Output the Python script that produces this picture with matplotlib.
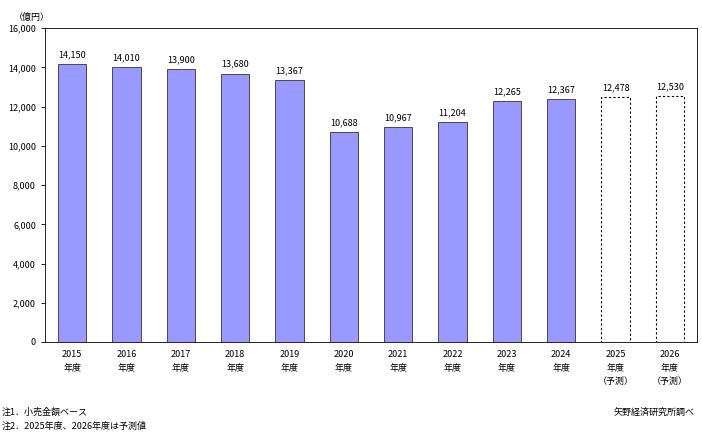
import matplotlib
matplotlib.use("Agg")
import matplotlib.pyplot as plt

plt.rcParams['font.family'] = ['Noto Sans CJK JP', 'DejaVu Sans']

years = ["2015", "2016", "2017", "2018", "2019", "2020", "2021", "2022", "2023", "2024", "2025", "2026"]
values = [14150, 14010, 13900, 13680, 13367, 10688, 10967, 11204, 12265, 12367, 12478, 12530]
forecast = [False]*10 + [True]*2
xlabels = [y + "\n年度" + ("\n（予測）" if f else "") for y, f in zip(years, forecast)]

fig = plt.figure(figsize=(7.02, 4.34), dpi=100)
ax = fig.add_axes([0.064, 0.212, 0.929, 0.723])
x = list(range(len(years)))
for i, (v, f) in enumerate(zip(values, forecast)):
    if f:
        ax.bar(i, v, width=0.52, facecolor='white', edgecolor='black', linestyle=(0, (2, 2)), linewidth=0.8)
    else:
        ax.bar(i, v, width=0.52, facecolor='#9999FF', edgecolor='#333333', linewidth=0.6)
    ax.text(i, v + 250, f"{v:,}", ha='center', va='bottom', fontsize=6.5)

ax.set_xlim(-0.5, len(years) - 0.5)
ax.set_ylim(0, 16000)
ax.set_yticks(range(0, 16001, 2000))
ax.set_yticklabels([f"{t:,}" for t in range(0, 16001, 2000)], fontsize=6.5)
ax.set_xticks(x)
ax.set_xticklabels(xlabels, fontsize=6.5, linespacing=1.6, va='top')
ax.tick_params(axis='x', length=0, pad=6)
ax.tick_params(axis='y', length=3, direction='out', width=0.6)
for s in ax.spines.values():
    s.set_linewidth(0.6)

fig.text(0.02, 0.955, "（億円）", fontsize=6.5)
fig.text(0.003, 0.045, "注1．小売金額ベース", fontsize=6.5)
fig.text(0.003, 0.012, "注2．2025年度、2026年度は予測値", fontsize=6.5)
fig.text(0.99, 0.045, "矢野経済研究所調べ", fontsize=6.5, ha='right')

fig.savefig("out.png", dpi=100)
